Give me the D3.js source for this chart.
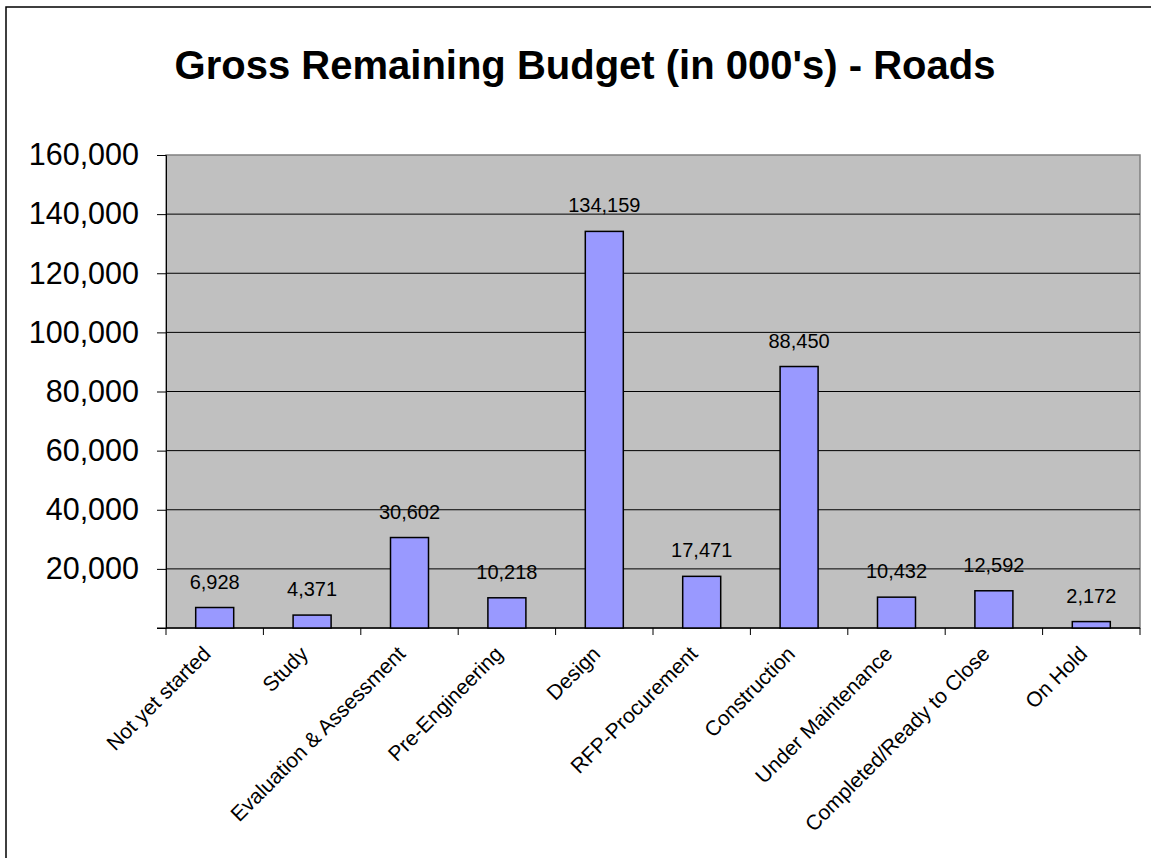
<!DOCTYPE html>
<html>
<head>
<meta charset="utf-8">
<script src="https://cdn.jsdelivr.net/npm/d3@7"></script>
<style>
  html, body { margin: 0; padding: 0; background: #fff; }
  svg { display: block; font-family: Arial, "Liberation Sans", sans-serif; }
</style>
</head>
<body>
<svg id="chart" width="1151" height="858"></svg>
<script>
const title = "Gross Remaining Budget (in 000's) - Roads";
const categories = ["Not yet started", "Study", "Evaluation & Assessment", "Pre-Engineering", "Design",
  "RFP-Procurement", "Construction", "Under Maintenance", "Completed/Ready to Close", "On Hold"];
const values = [6928, 4371, 30602, 10218, 134159, 17471, 88450, 10432, 12592, 2172];
const yTicks = [20000, 40000, 60000, 80000, 100000, 120000, 140000, 160000];

const svg = d3.select("#chart");
const plot = { left: 166, right: 1140, top: 155, bottom: 628 };

// outer frame
svg.append("rect").attr("x", 6).attr("y", 7).attr("width", 1200).attr("height", 900)
  .attr("fill", "#fff").attr("stroke", "#000").attr("stroke-width", 1.5);

const xb = d3.scaleBand().domain(categories).range([plot.left, plot.right]);
const y = d3.scaleLinear().domain([0, 160000]).range([plot.bottom, plot.top]);

// plot background
svg.append("rect").attr("x", plot.left).attr("y", plot.top)
  .attr("width", plot.right - plot.left).attr("height", plot.bottom - plot.top)
  .attr("fill", "#C0C0C0").attr("stroke", "#808080").attr("stroke-width", 1.5);

// gridlines
svg.append("g").selectAll("line").data(yTicks.filter(t => t < 160000)).join("line")
  .attr("x1", plot.left).attr("x2", plot.right)
  .attr("y1", d => y(d)).attr("y2", d => y(d))
  .attr("stroke", "#000").attr("stroke-width", 1);

// y axis
const yAxis = d3.axisLeft(y).tickValues(yTicks).tickSize(9).tickPadding(18)
  .tickFormat(d3.format(","));
const gy = svg.append("g").attr("transform", `translate(${plot.left},0)`).call(yAxis);
gy.select(".domain").attr("stroke", "#000").attr("stroke-width", 1);
gy.selectAll(".tick line").attr("stroke", "#000");
gy.selectAll(".tick text").attr("font-size", 30.5).attr("fill", "#000")
  .attr("font-family", "Arial, 'Liberation Sans', sans-serif");
// tick at zero (no label)
svg.append("line").attr("x1", plot.left - 9).attr("x2", plot.left)
  .attr("y1", y(0)).attr("y2", y(0)).attr("stroke", "#000");

// x axis line
svg.append("line").attr("x1", plot.left).attr("x2", plot.right)
  .attr("y1", plot.bottom).attr("y2", plot.bottom).attr("stroke", "#000").attr("stroke-width", 1.5);
// x tick marks at boundaries
const bounds = categories.map(c => xb(c)).concat([plot.right]);
svg.append("g").selectAll("line").data(bounds).join("line")
  .attr("x1", d => d).attr("x2", d => d)
  .attr("y1", plot.bottom).attr("y2", plot.bottom + 7)
  .attr("stroke", "#000");

// bars
svg.append("g").selectAll("rect").data(values).join("rect")
  .attr("x", (d, i) => xb(categories[i]) + xb.bandwidth() / 2 - 19)
  .attr("width", 38)
  .attr("y", d => y(d))
  .attr("height", d => y(0) - y(d))
  .attr("fill", "#9999FF").attr("stroke", "#000").attr("stroke-width", 1.5);

// data labels
svg.append("g").selectAll("text").data(values).join("text")
  .attr("x", (d, i) => xb(categories[i]) + xb.bandwidth() / 2)
  .attr("y", d => y(d) - 19)
  .attr("text-anchor", "middle")
  .attr("font-size", 20)
  .attr("fill", "#000")
  .text(d => d3.format(",")(d));

// category labels
svg.append("g").selectAll("text").data(categories).join("text")
  .attr("transform", d => `translate(${xb(d) + xb.bandwidth() / 2 - 8},${plot.bottom + 22}) rotate(-45)`)
  .attr("text-anchor", "end")
  .attr("dy", "0.35em")
  .attr("font-size", 21)
  .attr("fill", "#000")
  .text(d => d);

// title
svg.append("text").attr("x", 585).attr("y", 79)
  .attr("text-anchor", "middle").attr("font-size", 40).attr("font-weight", "bold")
  .attr("fill", "#000").text(title);
</script>
</body>
</html>
